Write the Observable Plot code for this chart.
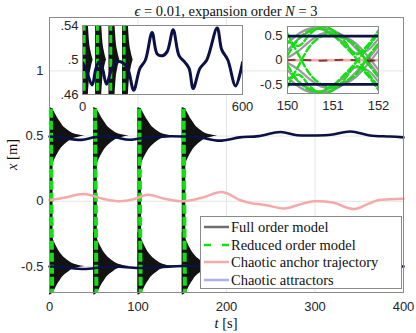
<!DOCTYPE html>
<html><head><meta charset="utf-8">
<script src="https://cdn.jsdelivr.net/npm/d3@7"></script>
<script src="https://cdn.jsdelivr.net/npm/@observablehq/plot@0.6"></script>
<style>
body{margin:0;background:#fff;}
#wrap{position:relative;width:416px;height:333px;overflow:hidden;}
#wrap > svg{position:absolute;left:0;top:0;}
.txt{position:absolute;font-family:"Liberation Serif","Times New Roman",serif;color:#111;white-space:nowrap;}
#legend{position:absolute;left:200px;top:216px;width:202px;height:73px;border:1px solid #8a8a8a;background:#fff;box-sizing:border-box;}
#legend .row{position:absolute;left:0;height:18px;width:200px;}
#legend svg{position:absolute;left:2px;top:4px;}
#legend span{position:absolute;left:30px;top:0;font-family:"Liberation Serif","Times New Roman",serif;font-size:14.5px;line-height:18px;color:#111;white-space:nowrap;}
</style></head><body><div id="wrap"></div>
<script>
// ---------- data ----------
const mainXTicks = [0, 100, 200, 300, 400];
const mainYTicks = [-0.5, 0, 0.5, 1];
const inset1XTicks = [0, 600];
const inset1YTicks = [0.46, 0.5, 0.54];
const inset2XTicks = [150, 151, 152];
const inset2YTicks = [-0.5, 0, 0.5];

// times at which the ensemble is restarted
const resetTimes = [0, 50, 100, 150];
// full order model: envelope of the dense oscillation after each restart (upper cluster; lower is mirrored)
const burstDt = [0, 3, 6, 9, 12, 15, 18, 22, 26, 32, 40];
const burstTop = [0.72, 0.71, 0.68, 0.64, 0.61, 0.58, 0.56, 0.54, 0.522, 0.51, 0.50];
const burstBottom = [0.24, 0.27, 0.32, 0.36, 0.395, 0.42, 0.44, 0.46, 0.478, 0.49, 0.50];
// initial crossing band (all trajectories sweep the whole range)
const bandDt = [0, 4];
const bandRange = [-0.7, 0.71];
// reduced order model sweep
const romDt = [1.5, 3];
const romRange = [0.71, -0.7];
const romInsetDt = [6, 6];

// chaotic attractor (upper) and (lower)
const attT = [0, 12, 36, 50, 62, 75, 90, 110, 132, 150, 170, 192, 215, 236, 261, 280, 300, 318, 340, 362, 385, 400, 415, 440, 466, 505, 522, 545, 574, 600];
const attUpper = [0.497, 0.49, 0.471, 0.49, 0.498, 0.49, 0.472, 0.49, 0.498, 0.497, 0.49, 0.465, 0.49, 0.5, 0.532, 0.507, 0.505, 0.51, 0.535, 0.505, 0.497, 0.49, 0.467, 0.49, 0.5, 0.537, 0.512, 0.5, 0.47, 0.497];
const lowT = [0, 15, 39, 60, 75, 100, 125, 150, 175, 200, 240, 280, 320, 360, 400];
const lowV = [-0.5, -0.505, -0.52, -0.505, -0.5, -0.512, -0.505, -0.497, -0.5, -0.505, -0.5, -0.495, -0.5, -0.495, -0.5];

// chaotic anchor trajectory
const ancT = [0, 15, 39, 60, 80, 95, 111, 130, 150, 171, 196, 215, 228, 245, 265, 285, 299, 320, 344, 360, 372, 385, 400];
const ancV = [0.01, 0.025, 0.055, 0.02, 0.0, 0.015, 0.05, 0.02, 0.0, 0.025, 0.07, 0.01, -0.015, -0.03, -0.055, -0.02, 0.0, -0.01, -0.06, -0.02, 0.01, 0.015, 0.02];

// zoom 150..152
const insetT = [150, 150.25, 150.5, 150.75, 151, 151.25, 151.5, 151.75, 152];
const fom1 = [0.2, 0.45, 0.6, 0.66, 0.62, 0.48, 0.25, 0.0, -0.3];
const fom2 = [-0.2, -0.45, -0.6, -0.66, -0.62, -0.48, -0.25, 0.0, 0.3];
const fom3 = [0.35, 0.55, 0.66, 0.64, 0.52, 0.35, 0.15, 0.2, 0.45];
const fom4 = [-0.35, -0.55, -0.66, -0.64, -0.52, -0.35, -0.15, -0.2, -0.45];
const fom5 = [0.05, 0.2, 0.4, 0.55, 0.58, 0.5, 0.35, 0.1, -0.2];
const fom6 = [-0.05, -0.2, -0.4, -0.55, -0.58, -0.5, -0.35, -0.1, 0.2];
const fom0 = [0, 0.01, 0, -0.01, 0, 0.01, 0, -0.01, 0];
const rom1 = [0.4, 0.3, 0.55, 0.7, 0.62, 0.4, 0.12, 0.3, 0.62];
const rom2 = [-0.4, -0.3, -0.55, -0.7, -0.62, -0.4, -0.12, -0.3, -0.62];
const rom3 = [0.1, 0.45, 0.62, 0.65, 0.52, 0.3, 0.05, -0.25, -0.55];
const rom4 = [-0.1, -0.45, -0.62, -0.65, -0.52, -0.3, -0.05, 0.25, 0.55];
const rom5 = [0.55, 0.1, -0.3, -0.5, -0.55, -0.45, -0.3, 0.05, 0.35];
const rom6 = [-0.55, -0.1, 0.3, 0.5, 0.55, 0.45, 0.3, -0.05, -0.35];
const inset2Attractors = [0.5, -0.5];
const inset2Anchor = [0];

// ---------- styles ----------
const NAVY = "#0b1146", PINK = "#f6a9a9", GREEN = "#12e012", BLACK = "#121212", GRAY = "#555", FRAME = "#8a8a8a", GRID = "#e4e4e4";
const LAV = "#aab0f2";
const tickFont = {fontFamily: "Liberation Sans, Arial, sans-serif", fontSize: "13px", color: "#262626", overflow: "visible"};

// ---------- derived tables ----------
const burstRows = [];
resetTimes.forEach(t0 => [1, -1].forEach(s => burstDt.forEach((dt, i) => burstRows.push({
  id: t0 + "_" + s, t: t0 + dt,
  lo: s > 0 ? burstBottom[i] : -burstTop[i],
  hi: s > 0 ? burstTop[i] : -burstBottom[i]
}))));
const bandRows = resetTimes.map(t0 => ({x1: t0 + bandDt[0], x2: t0 + bandDt[1], y1: bandRange[0], y2: bandRange[1]}));
const romRows = resetTimes.map(t0 => ({x1: t0 + romDt[0], x2: t0 + romDt[1], y1: romRange[0], y2: romRange[1]}));
const romInsetRows = resetTimes.map(t0 => ({x1: t0 + romInsetDt[0], x2: t0 + romInsetDt[1], y1: romRange[0], y2: romRange[1]}));
const upper = attT.map((t, i) => ({t, v: attUpper[i]}));
const lower = lowT.map((t, i) => ({t, v: lowV[i]}));
const anchor = ancT.map((t, i) => ({t, v: ancV[i]}));
const fomSeries = [fom1, fom2, fom3, fom4, fom5, fom6].flatMap((s, k) => s.map((v, i) => ({k, t: insetT[i], v})));
const fomZero = fom0.map((v, i) => ({t: insetT[i], v}));
const romSeries = [rom1, rom2, rom3, rom4, rom5, rom6].flatMap((s, k) => s.map((v, i) => ({k, t: insetT[i], v})));

const wrap = document.getElementById("wrap");

// ---------- main axes ----------
const main = Plot.plot({
  width: 416, height: 333,
  marginLeft: 49, marginRight: 13, marginTop: 17, marginBottom: 41,
  x: {domain: [0, 400], label: null},
  y: {domain: [-0.7, 1.41], label: null},
  style: {...tickFont, background: "white"},
  marks: [
    Plot.gridX(mainXTicks, {stroke: GRID, strokeOpacity: 1}),
    Plot.gridY(mainYTicks, {stroke: GRID, strokeOpacity: 1}),
    Plot.axisX(mainXTicks, {tickSize: 0, tickPadding: 9, tickFormat: d => String(d)}),
    Plot.axisY(mainYTicks, {tickSize: 0, tickPadding: 6, tickFormat: d => String(d)}),
    Plot.areaY(burstRows, {x: "t", y1: "lo", y2: "hi", z: "id", fill: BLACK, curve: "monotone-x"}),
    Plot.rect(bandRows, {x1: "x1", x2: "x2", y1: "y1", y2: "y2", fill: BLACK}),
    Plot.link(romRows, {x1: "x1", x2: "x2", y1: "y1", y2: "y2", stroke: GREEN, strokeWidth: 4, strokeDasharray: "9,3"}),
    Plot.line(anchor, {x: "t", y: "v", stroke: PINK, strokeWidth: 2.5, curve: "catmull-rom"}),
    Plot.line(upper.filter(d => d.t <= 400), {x: "t", y: "v", stroke: NAVY, strokeWidth: 2.6, curve: "catmull-rom"}),
    Plot.line(lower, {x: "t", y: "v", stroke: NAVY, strokeWidth: 2.6, curve: "catmull-rom"}),
    Plot.frame({stroke: FRAME})
  ]
});
wrap.appendChild(main);

// ---------- inset 1 ----------
const inset1 = Plot.plot({
  width: 416, height: 333,
  marginLeft: 82, marginRight: 174, marginTop: 25, marginBottom: 239,
  x: {domain: [0, 600], label: null},
  y: {domain: [0.46, 0.54], label: null},
  style: {...tickFont, background: "transparent"},
  marks: [
    Plot.frame({fill: "white", stroke: null}),
    Plot.axisX(inset1XTicks, {tickSize: 0, tickPadding: 7, tickFormat: d => String(d)}),
    Plot.axisY(inset1YTicks, {tickSize: 0, tickPadding: 4, tickFormat: d => String(d).replace(/^0/, "")}),
    Plot.areaY(burstRows, {x: "t", y1: "lo", y2: "hi", z: "id", fill: BLACK, curve: "monotone-x", clip: true}),
    Plot.rect(bandRows, {x1: "x1", x2: "x2", y1: "y1", y2: "y2", fill: BLACK, clip: true}),
    Plot.link(romInsetRows, {x1: "x1", x2: "x2", y1: "y1", y2: "y2", stroke: GREEN, strokeWidth: 3, strokeDasharray: "8,4", clip: true}),
    Plot.line(upper, {x: "t", y: "v", stroke: NAVY, strokeWidth: 3, curve: "catmull-rom", clip: true}),
    Plot.frame({stroke: FRAME})
  ]
});
wrap.appendChild(inset1);

// ---------- inset 2 ----------
const inset2 = Plot.plot({
  width: 416, height: 333,
  marginLeft: 287, marginRight: 38, marginTop: 26, marginBottom: 240,
  x: {domain: [150, 152], label: null},
  y: {domain: [-0.69, 0.70], label: null},
  style: {...tickFont, background: "transparent"},
  marks: [
    Plot.frame({fill: "white", stroke: null}),
    Plot.axisX(inset2XTicks, {tickSize: 0, tickPadding: 7, tickFormat: d => String(d)}),
    Plot.axisY(inset2YTicks, {tickSize: 0, tickPadding: 5, tickFormat: d => String(d)}),
    Plot.ruleY(inset2Anchor, {stroke: PINK, strokeWidth: 2.5}),
    Plot.line(fomSeries, {x: "t", y: "v", z: "k", stroke: GRAY, strokeOpacity: 0.6, strokeWidth: 2.2, curve: "catmull-rom", clip: true}),
    Plot.line(fomZero, {x: "t", y: "v", stroke: "#5a0c0c", strokeOpacity: 0.7, strokeWidth: 2, strokeDasharray: "7,9", curve: "catmull-rom", clip: true}),
    Plot.line(romSeries, {x: "t", y: "v", z: "k", stroke: GREEN, strokeWidth: 2.4, strokeDasharray: "7,3", curve: "catmull-rom", clip: true}),
    Plot.ruleY(inset2Attractors, {stroke: NAVY, strokeWidth: 2.6}),
    Plot.frame({stroke: FRAME})
  ]
});
wrap.appendChild(inset2);

// ---------- texts ----------
function addText(html, css) {
  const d = document.createElement("div");
  d.className = "txt"; d.innerHTML = html; Object.assign(d.style, css); wrap.appendChild(d);
  return d;
}
addText("<i>ϵ</i> = 0.01, expansion order <i>N</i> = 3", {left: "26px", width: "400px", textAlign: "center", top: "3px", fontSize: "14.5px"});
addText("<i>t</i> [s]", {left: "176px", width: "100px", textAlign: "center", top: "315px", fontSize: "14.5px"});
addText("<i>x</i> [m]", {left: "-38px", width: "100px", textAlign: "center", top: "146px", fontSize: "14.5px", transform: "rotate(-90deg)"});

// ---------- legend ----------
const legendItems = [
  {label: "Full order model", stroke: "#6f6f6f", dash: null},
  {label: "Reduced order model", stroke: GREEN, dash: "7,11"},
  {label: "Chaotic anchor trajectory", stroke: PINK, dash: null},
  {label: "Chaotic attractors", stroke: LAV, dash: null}
];
const leg = document.createElement("div"); leg.id = "legend";
legendItems.forEach((it, i) => {
  const r = document.createElement("div"); r.className = "row"; r.style.top = (1 + i * 17.7) + "px";
  r.innerHTML = `<svg width="28" height="10"><line x1="1" x2="26" y1="5" y2="5" stroke="${it.stroke}" stroke-width="2.5" ${it.dash ? `stroke-dasharray="${it.dash}"` : ""}/></svg><span>${it.label}</span>`;
  leg.appendChild(r);
});
wrap.appendChild(leg);
</script></body></html>
